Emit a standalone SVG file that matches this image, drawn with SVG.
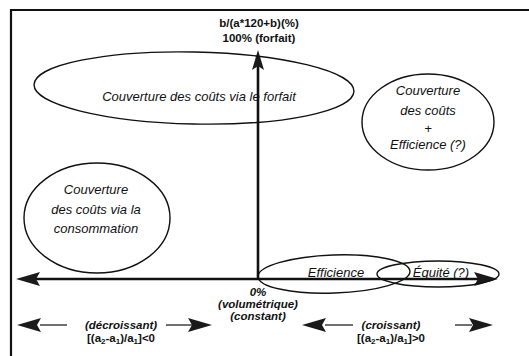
<svg xmlns="http://www.w3.org/2000/svg" width="529" height="356" viewBox="0 0 529 356">
<style>
.bg{fill:#fff}
.frame{fill:none;stroke:#111;stroke-width:2.2}
.ell{fill:none;stroke:#111;stroke-width:1.4}
.axis{fill:none;stroke:#111;stroke-width:2.6}
.thin{fill:none;stroke:#111;stroke-width:1.2}
.head{fill:#1a1a1a;stroke:none}
.it{font-family:"Liberation Sans",Arial,sans-serif;font-style:italic;font-size:13px;fill:#111;text-anchor:middle}
.b{font-family:"Liberation Sans",Arial,sans-serif;font-weight:bold;font-size:11.5px;fill:#111;text-anchor:middle}
.bi{font-family:"Liberation Sans",Arial,sans-serif;font-weight:bold;font-style:italic;font-size:11.5px;fill:#111;text-anchor:middle}
</style>
<defs>
<path id="hl" d="M0,0 L24,-7 L20,0 L24,7 Z"/>
</defs>
<rect class="bg" x="0" y="0" width="529" height="356"/>
<path class="frame" d="M11,356 V10 H529"/>

<g id="connectors">
  <line class="axis" x1="258" y1="279" x2="258" y2="66"/>
  <path class="head" d="M258,50 L264,70 L258,66 L252,70 Z"/>
  <line class="axis" x1="36" y1="279" x2="480" y2="279"/>
  <use href="#hl" class="head" x="16" y="279"/>
  <use href="#hl" class="head" transform="translate(498,279) scale(-1,1)"/>
  <line class="thin" x1="40" y1="325" x2="67" y2="325"/>
  <use href="#hl" class="head" x="17" y="325"/>
  <line class="thin" x1="166" y1="325" x2="192" y2="325"/>
  <use href="#hl" class="head" transform="translate(212,325) scale(-1,1)"/>
  <line class="thin" x1="325" y1="325" x2="353" y2="325"/>
  <use href="#hl" class="head" x="302" y="325"/>
  <line class="thin" x1="455" y1="325" x2="472" y2="325"/>
  <use href="#hl" class="head" transform="translate(493,325) scale(-1,1)"/>
</g>

<g id="forfait">
  <ellipse class="ell" cx="194" cy="88" rx="160" ry="36" transform="rotate(1.2 194 88)"/>
  <text class="it" x="199" y="101">Couverture des coûts via le forfait</text>
</g>
<g id="efficience-couverture">
  <ellipse class="ell" cx="428" cy="122" rx="66" ry="48"/>
  <text class="it" x="428" y="95">Couverture</text>
  <text class="it" x="428" y="115">des coûts</text>
  <text class="it" x="428" y="133">+</text>
  <text class="it" x="428" y="149">Efficience (?)</text>
</g>
<g id="consommation">
  <ellipse class="ell" cx="97" cy="218" rx="73" ry="55"/>
  <text class="it" x="96" y="194">Couverture</text>
  <text class="it" x="96" y="214">des coûts via la</text>
  <text class="it" x="96" y="233">consommation</text>
</g>
<g id="efficience">
  <ellipse class="ell" cx="334" cy="274" rx="76" ry="19" transform="rotate(-2 334 274)"/>
  <text class="it" x="336" y="277">Efficience</text>
</g>
<g id="equite">
  <ellipse class="ell" cx="438" cy="274" rx="61" ry="13"/>
  <text class="it" x="441" y="277">Équité (?)</text>
</g>

<g id="labels">
  <text class="b" x="259" y="27">b/(a*120+b)(%)</text>
  <text class="b" x="259" y="42">100% (forfait)</text>
  <text class="bi" x="258" y="296">0%</text>
  <text class="bi" x="258" y="308">(volumétrique)</text>
  <text class="bi" x="258" y="320">(constant)</text>
  <text class="bi" x="121" y="329">(décroissant)</text>
  <text class="b" x="121" y="342">[(a<tspan font-size="8" dy="2">2</tspan><tspan dy="-2">-a</tspan><tspan font-size="8" dy="2">1</tspan><tspan dy="-2">)/a</tspan><tspan font-size="8" dy="2">1</tspan><tspan dy="-2">]&lt;0</tspan></text>
  <text class="bi" x="391" y="329">(croissant)</text>
  <text class="b" x="391" y="342">[(a<tspan font-size="8" dy="2">2</tspan><tspan dy="-2">-a</tspan><tspan font-size="8" dy="2">1</tspan><tspan dy="-2">)/a</tspan><tspan font-size="8" dy="2">1</tspan><tspan dy="-2">]&gt;0</tspan></text>
</g>
</svg>
